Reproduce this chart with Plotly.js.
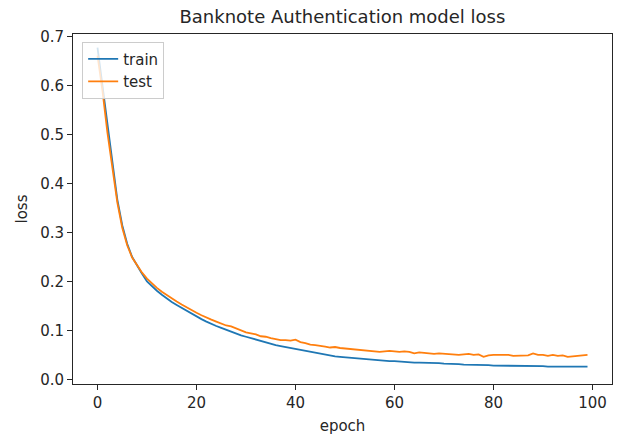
<!DOCTYPE html>
<html>
<head>
<meta charset="utf-8">
<script src="https://cdn.plot.ly/plotly-3.0.1.min.js"></script>
<style>html,body{margin:0;padding:0;background:#fff;}#chart{width:617px;height:435px;}</style>
</head>
<body>
<div id="chart"></div>
<script>
const titleText = "Banknote Authentication model loss";
const xLabel = "epoch";
const yLabel = "loss";
const seriesNames = ["train", "test"];

const trainLoss = [
  0.678, 0.600, 0.515, 0.435, 0.368, 0.315, 0.277, 0.250, 0.232, 0.216,
  0.200, 0.190, 0.181, 0.173, 0.165, 0.158, 0.152, 0.146, 0.140, 0.134,
  0.128, 0.123, 0.118, 0.113, 0.109, 0.105, 0.101, 0.097, 0.094, 0.090,
  0.087, 0.084, 0.081, 0.078, 0.075, 0.072, 0.070, 0.068, 0.066, 0.064,
  0.062, 0.060, 0.058, 0.056, 0.054, 0.052, 0.050, 0.049, 0.047, 0.046,
  0.045, 0.045, 0.044, 0.043, 0.042, 0.041, 0.040, 0.039, 0.038, 0.037,
  0.037, 0.036, 0.036, 0.035, 0.034, 0.034, 0.034, 0.033, 0.033, 0.033,
  0.032, 0.032, 0.031, 0.031, 0.030, 0.030, 0.030, 0.029, 0.029, 0.029,
  0.028, 0.028, 0.028, 0.028, 0.028, 0.027, 0.027, 0.027, 0.027, 0.027,
  0.027, 0.026, 0.026, 0.026, 0.025, 0.025, 0.025, 0.025, 0.026, 0.026
];

const testLoss = [
  0.662, 0.590, 0.505, 0.428, 0.362, 0.310, 0.274, 0.249, 0.232, 0.218,
  0.206, 0.196, 0.187, 0.179, 0.172, 0.165, 0.159, 0.153, 0.147, 0.141,
  0.136, 0.131, 0.126, 0.122, 0.118, 0.114, 0.110, 0.108, 0.104, 0.101,
  0.096, 0.094, 0.092, 0.088, 0.087, 0.084, 0.082, 0.080, 0.080, 0.079,
  0.081, 0.076, 0.074, 0.071, 0.070, 0.069, 0.067, 0.065, 0.066, 0.064,
  0.063, 0.062, 0.062, 0.061, 0.060, 0.059, 0.058, 0.056, 0.057, 0.058,
  0.057, 0.056, 0.057, 0.056, 0.053, 0.055, 0.054, 0.053, 0.052, 0.053,
  0.052, 0.051, 0.051, 0.050, 0.051, 0.052, 0.050, 0.051, 0.046, 0.049,
  0.050, 0.050, 0.049, 0.050, 0.048, 0.048, 0.049, 0.049, 0.053, 0.050,
  0.050, 0.048, 0.050, 0.048, 0.049, 0.046, 0.047, 0.048, 0.049, 0.050
];

const epochs = trainLoss.map((_, i) => i);
const xTicks = [0, 20, 40, 60, 80, 100];
const yTicks = [0.0, 0.1, 0.2, 0.3, 0.4, 0.5, 0.6, 0.7];

const font = "DejaVu Sans, sans-serif";
const axisCommon = {
  showgrid: false, zeroline: false,
  showline: true, mirror: true, linecolor: "#262626", linewidth: 1,
  ticks: "outside", ticklen: 5, tickwidth: 1, tickcolor: "#262626",
  tickfont: {family: font, size: 15, color: "#262626"}
};

const traces = [
  {x: epochs, y: trainLoss, name: seriesNames[0], type: "scatter", mode: "lines",
   line: {color: "#1f77b4", width: 1.8}},
  {x: epochs, y: testLoss, name: seriesNames[1], type: "scatter", mode: "lines",
   line: {color: "#ff7f0e", width: 1.8}}
];

const layout = {
  width: 617, height: 435,
  margin: {l: 73, r: 5, t: 34, b: 51},
  paper_bgcolor: "#fff", plot_bgcolor: "#fff",
  title: {text: titleText, x: 0.555, xanchor: "center", y: 0.962, yanchor: "middle",
          font: {family: font, size: 18, color: "#262626"}},
  xaxis: Object.assign({}, axisCommon, {
    range: [-4.95, 103.95], tickvals: xTicks, ticktext: xTicks.map(String),
    title: {text: xLabel, standoff: 9, font: {family: font, size: 15, color: "#262626"}}
  }),
  yaxis: Object.assign({}, axisCommon, {
    range: [-0.0096, 0.706], tickvals: yTicks, ticktext: yTicks.map(v => v.toFixed(1)),
    title: {text: yLabel, standoff: 8, font: {family: font, size: 15, color: "#262626"}}
  }),
  showlegend: true,
  legend: {x: 0.017, y: 0.978, xanchor: "left", yanchor: "top",
           bgcolor: "rgba(255,255,255,0.8)", bordercolor: "#cccccc", borderwidth: 1,
           font: {family: font, size: 15, color: "#262626"}, tracegroupgap: 0}
};

Plotly.newPlot("chart", traces, layout, {displayModeBar: false, staticPlot: true});
</script>
</body>
</html>
